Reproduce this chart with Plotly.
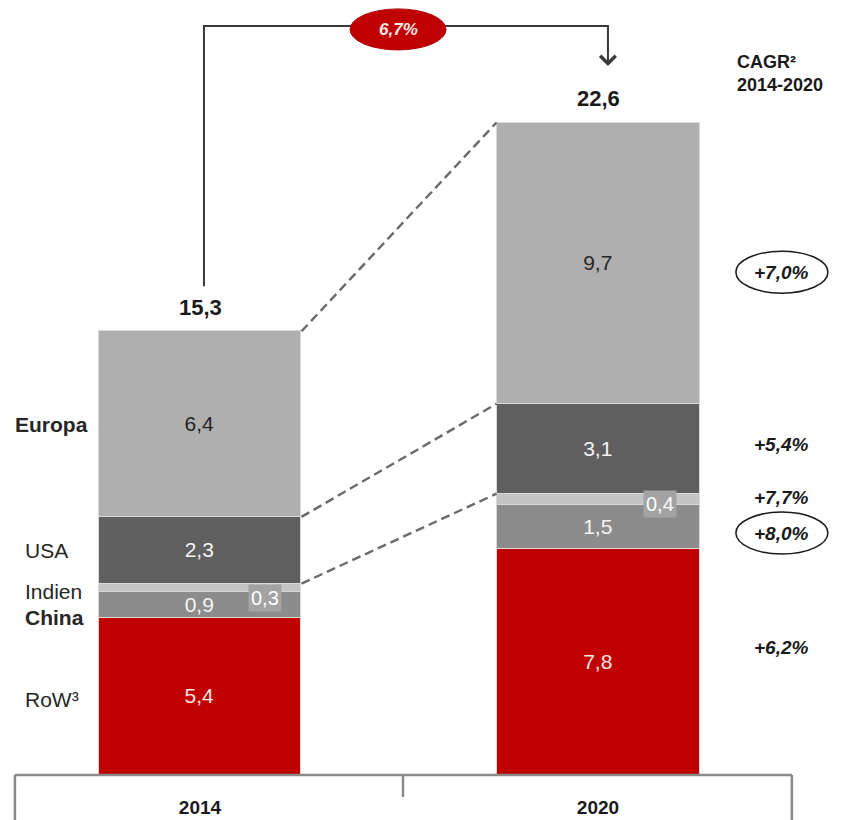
import plotly.graph_objects as go

# ---------------- data ----------------
years = ["2014", "2020"]
regions = ["RoW³", "China", "Indien", "USA", "Europa"]          # bottom -> top
row_vals = [5.4, 7.8]
china_vals = [0.9, 1.5]
indien_vals = [0.3, 0.4]
usa_vals = [2.3, 3.1]
europa_vals = [6.4, 9.7]
totals = [15.3, 22.6]
cagr_total = "6,7%"
cagr_regions = ["+6,2%", "+8,0%", "+7,7%", "+5,4%", "+7,0%"]    # bottom -> top
cagr_header = "CAGR²<br>2014-2020"

series = [row_vals, china_vals, indien_vals, usa_vals, europa_vals]

# ---------------- styles ----------------
FONT = "Liberation Sans, Arial, sans-serif"
colors = ["#c00000", "#8c8c8c", "#c4c4c4", "#5f5f5f", "#afafaf"]
text_colors = ["#fde4e4", "#f4f4f4", "#ffffff", "#f4f4f4", "#262626"]
show_inside = [True, True, False, True, True]
left_bold = [False, True, False, False, True]
left_x = [-0.445, -0.445, -0.445, -0.445, -0.47]
left_shift = [-3, -12, -4, 0, 0]
right_shift = [14, -6, 2, 4, -9]
circled = [False, True, False, False, True]
BAR_W = 0.51
xs = [0, 1]


def fmt(v):
    return f"{v:.1f}".replace(".", ",")


fig = go.Figure()

# stacked bars
for i, vals in enumerate(series):
    fig.add_trace(go.Bar(
        x=xs, y=vals, width=BAR_W,
        marker=dict(color=colors[i], line=dict(color="#d9d9d9", width=1.5)),
        text=[fmt(v) for v in vals] if show_inside[i] else None,
        textposition="inside" if show_inside[i] else "none",
        insidetextanchor="middle", textangle=0,
        textfont=dict(color=text_colors[i], size=21, family=FONT),
        hoverinfo="skip", showlegend=False,
    ))

# cumulative tops / centers
cum_top = []
cum_mid = []
for j in range(len(xs)):
    acc = 0.0
    tops, mids = [], []
    for vals in series:
        mids.append(acc + vals[j] / 2)
        acc += vals[j]
        tops.append(acc)
    cum_top.append(tops)
    cum_mid.append(mids)

# dashed connectors (top of Indien, USA, Europa)
for k in [2, 3, 4]:
    fig.add_trace(go.Scatter(
        x=[xs[0] + BAR_W / 2, xs[1] - BAR_W / 2],
        y=[cum_top[0][k], cum_top[1][k]],
        mode="lines", line=dict(color="#6a6a6a", width=2.4, dash="9px,5px"),
        hoverinfo="skip", showlegend=False,
    ))

annotations = []
shapes = []

# totals above bars
for j in range(len(xs)):
    annotations.append(dict(
        x=xs[j], y=cum_top[j][-1], xref="x", yref="y", text=f"<b>{fmt(totals[j])}</b>",
        showarrow=False, yshift=24, font=dict(size=22, color="#1a1a1a", family=FONT)))

# small boxed Indien labels
box_dx = [0.163, 0.156]
box_shift = [-10, -4]
for j in range(len(xs)):
    annotations.append(dict(
        x=xs[j] + box_dx[j], y=cum_mid[j][2], xref="x", yref="y", text=fmt(indien_vals[j]),
        showarrow=False, yshift=box_shift[j], bgcolor="#a3a3a3", borderpad=2,
        font=dict(size=20, color="#ffffff", family=FONT)))

# left region labels
for i, name in enumerate(regions):
    txt = f"<b>{name}</b>" if left_bold[i] else name
    annotations.append(dict(
        x=left_x[i], y=cum_mid[0][i], xref="x", yref="y", text=txt, xanchor="left",
        showarrow=False, yshift=left_shift[i], font=dict(size=21, color="#262626", family=FONT)))

# right CAGR labels
RX = 1.462
for i, lab in enumerate(cagr_regions):
    annotations.append(dict(
        x=RX, y=cum_mid[1][i], xref="x", yref="y", text=f"<b><i>{lab}</i></b>",
        showarrow=False, yshift=right_shift[i], font=dict(size=19, color="#1a1a1a", family=FONT)))
    if circled[i]:
        shapes.append(dict(
            type="circle", xref="x", yref="y", xsizemode="pixel", ysizemode="pixel",
            xanchor=RX, yanchor=cum_mid[1][i], x0=-46, x1=46,
            y0=right_shift[i] - 21, y1=right_shift[i] + 21,
            line=dict(color="#1a1a1a", width=1.5)))

# CAGR header
annotations.append(dict(
    x=1.344, y=24.2, xref="x", yref="y", text=f"<b>{cagr_header}</b>", xanchor="left",
    align="left", showarrow=False, font=dict(size=18, color="#1a1a1a", family=FONT)))

# bracket with total CAGR
BX0, BX1, BY = 0.01, 1.025, 25.83
start_y = totals[0] + 1.55
tip_y = cum_top[1][-1] + 1.95
fig.add_trace(go.Scatter(
    x=[BX0, BX0, BX1, BX1], y=[start_y, BY, BY, tip_y + 0.5],
    mode="lines", line=dict(color="#3a3a3a", width=2),
    hoverinfo="skip", showlegend=False))
annotations.append(dict(
    x=BX1, y=tip_y, ax=BX1, ay=tip_y + 0.6, xref="x", yref="y", axref="x", ayref="y",
    text="", showarrow=True, arrowhead=4, arrowsize=1.5, arrowwidth=2, arrowcolor="#3a3a3a"))
shapes.append(dict(
    type="circle", xref="x", yref="y", xsizemode="pixel", ysizemode="pixel",
    xanchor=0.4975, yanchor=BY, x0=-48, x1=48, y0=-24, y1=17,
    fillcolor="#c00000", line=dict(color="#b00000", width=1)))
annotations.append(dict(
    x=0.4975, y=BY, xref="x", yref="y", text=f"<b><i>{cagr_total}</i></b>", yshift=-4,
    showarrow=False, font=dict(size=17, color="#ffe8e8", family=FONT)))

# category axis frame
AX_L, AX_R, AX_M = -0.465, 1.487, 0.51
shapes.append(dict(type="line", xref="x", yref="paper", x0=AX_L, x1=AX_R, y0=0, y1=0,
                   line=dict(color="#8a8a8a", width=2.5)))
for xv, ln in [(AX_L, 60), (AX_R, 60), (AX_M, 22)]:
    shapes.append(dict(type="line", xref="x", yref="paper", x0=xv, x1=xv, y0=0, y1=-ln / 775,
                       line=dict(color="#8a8a8a", width=2.5)))

fig.update_layout(
    width=848, height=820,
    margin=dict(l=0, r=0, t=0, b=45),
    barmode="stack", bargap=0,
    plot_bgcolor="white", paper_bgcolor="white",
    separators=",.",
    uniformtext=dict(mode="show", minsize=21),
    showlegend=False,
    annotations=annotations, shapes=shapes,
    xaxis=dict(range=[-0.5025, 1.6281], tickvals=xs, ticktext=[f"<b>{y}</b>" for y in years],
               ticks="", showgrid=False, zeroline=False, showline=False, ticklabelstandoff=19,
               tickfont=dict(size=19, color="#1a1a1a", family=FONT), fixedrange=True),
    yaxis=dict(range=[0, 775 / 29], visible=False, fixedrange=True),
)

fig.write_html("out.html")
